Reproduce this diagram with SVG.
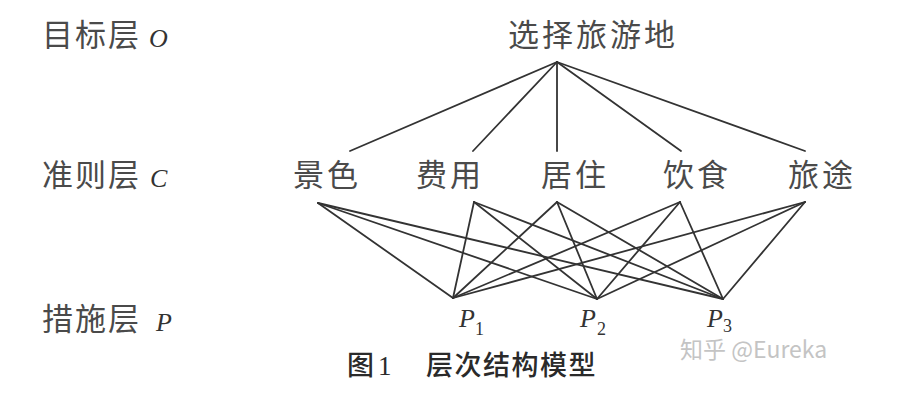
<svg xmlns="http://www.w3.org/2000/svg" width="918" height="404" viewBox="0 0 918 404">
<style>
.cn{font-family:"Noto Sans CJK SC","Noto Sans",sans-serif;fill:#4a4a4a;font-size:31px}
.crit{text-anchor:middle;letter-spacing:3px}
.it{font-family:"Liberation Serif",serif;font-style:italic;fill:#333}
.sub{font-family:"Liberation Serif",serif;font-style:normal;fill:#333;font-size:18px}
.cap{font-family:"Noto Sans CJK SC",sans-serif;fill:#2a2a2a;font-size:27px;font-weight:500}
.wm{font-family:"Noto Sans CJK SC","Noto Sans",sans-serif;fill:#c4c4c4;font-size:23px}
.ln{stroke:#333;stroke-width:1.8;fill:none;stroke-linecap:round}
</style>
<rect width="918" height="404" fill="#fff"/>
<g id="layer-labels">
<text class="cn" x="42" y="46" style="letter-spacing:2px">目标层</text>
<text class="it" x="149" y="47" font-size="26">O</text>
<text class="cn" x="42" y="186" style="letter-spacing:2px">准则层</text>
<text class="it" x="150" y="187" font-size="26">C</text>
<text class="cn" x="42" y="330" style="letter-spacing:2px">措施层</text>
<text class="it" x="156" y="331" font-size="26">P</text>
</g>
<g id="connectors">
<line class="ln" x1="557" y1="62" x2="350" y2="151"/>
<line class="ln" x1="557" y1="62" x2="473" y2="151"/>
<line class="ln" x1="557" y1="62" x2="557" y2="151"/>
<line class="ln" x1="557" y1="62" x2="681" y2="151"/>
<line class="ln" x1="557" y1="62" x2="805" y2="151"/>
<line class="ln" x1="318" y1="203" x2="453" y2="298"/>
<line class="ln" x1="318" y1="203" x2="597" y2="299"/>
<line class="ln" x1="318" y1="203" x2="723" y2="299"/>
<line class="ln" x1="474" y1="202" x2="453" y2="298"/>
<line class="ln" x1="474" y1="202" x2="597" y2="299"/>
<line class="ln" x1="474" y1="202" x2="723" y2="299"/>
<line class="ln" x1="557" y1="202" x2="453" y2="298"/>
<line class="ln" x1="557" y1="202" x2="597" y2="299"/>
<line class="ln" x1="557" y1="202" x2="723" y2="299"/>
<line class="ln" x1="680" y1="202" x2="453" y2="298"/>
<line class="ln" x1="680" y1="202" x2="597" y2="299"/>
<line class="ln" x1="680" y1="202" x2="723" y2="299"/>
<line class="ln" x1="805" y1="202" x2="453" y2="298"/>
<line class="ln" x1="805" y1="202" x2="597" y2="299"/>
<line class="ln" x1="805" y1="202" x2="723" y2="299"/>
</g>
<g id="goal"><text class="cn crit" x="593" y="46">选择旅游地</text></g>
<g id="c1"><text class="cn crit" x="327" y="186">景色</text></g>
<g id="c2"><text class="cn crit" x="450" y="186">费用</text></g>
<g id="c3"><text class="cn crit" x="575" y="186">居住</text></g>
<g id="c4"><text class="cn crit" x="697" y="186">饮食</text></g>
<g id="c5"><text class="cn crit" x="822" y="186">旅途</text></g>
<g id="p1"><text class="it" x="459" y="327" font-size="26">P<tspan class="sub" x="475" y="335">1</tspan></text></g>
<g id="p2"><text class="it" x="580" y="327" font-size="26">P<tspan class="sub" x="597" y="335">2</tspan></text></g>
<g id="p3"><text class="it" x="707" y="327" font-size="26">P<tspan class="sub" x="723" y="332">3</tspan></text></g>
<g id="caption"><text class="cap" y="375"><tspan x="347">图</tspan><tspan x="378" font-family="Liberation Serif" font-size="27">1</tspan><tspan x="426" style="letter-spacing:1.5px">层次结构模型</tspan></text></g>
<g id="watermark"><text class="wm" x="680" y="358">知乎 @Eureka</text></g>
</svg>
